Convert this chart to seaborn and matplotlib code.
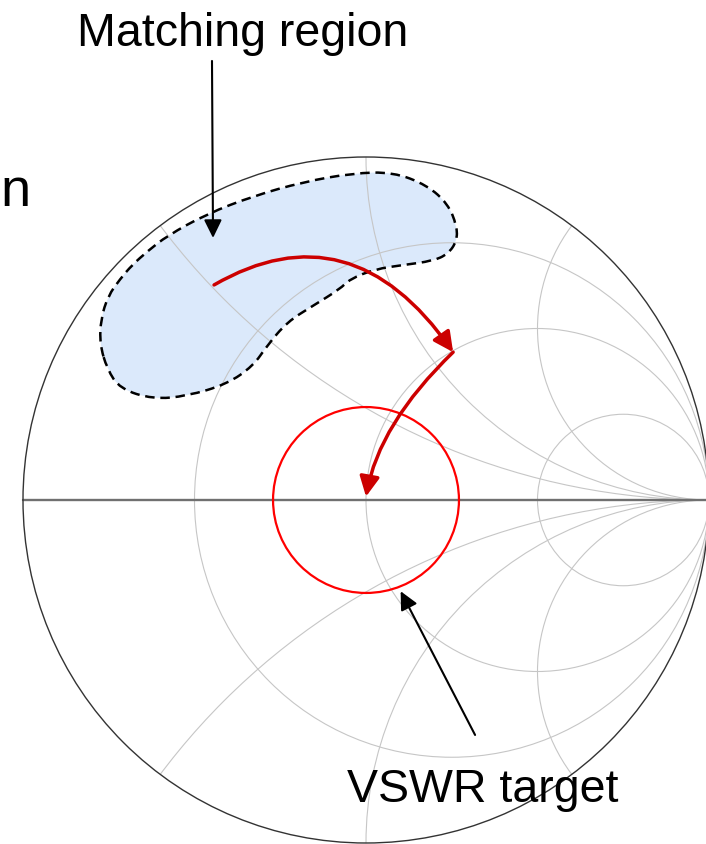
import numpy as np
import matplotlib
matplotlib.use("Agg")
import matplotlib.pyplot as plt
from matplotlib.patches import Circle, PathPatch
from matplotlib.path import Path
import seaborn as sns

# Smith chart grid (normalised resistance / reactance values)
resistance_circles = [1 / 3, 1.0, 3.0]
reactance_arcs = [0.5, 1.0, 2.0, -0.5, -1.0, -2.0]

# VSWR target: circle of constant |Gamma| around the chart centre
vswr_center_re = 0.0
vswr_center_im = 0.0
vswr_radius = 0.271

# Matching region outline in the reflection-coefficient plane
region_re = [-0.776, -0.773, -0.752, -0.717, -0.682, -0.636, -0.580, -0.464,
             -0.329, -0.184, -0.038, 0.079, 0.178, 0.239, 0.265, 0.265,
             0.239, 0.195, 0.108, 0.026, -0.047, -0.076, -0.155, -0.230,
             -0.289, -0.329, -0.405, -0.522, -0.621, -0.717, -0.755]
region_im = [0.455, 0.528, 0.595, 0.644, 0.685, 0.726, 0.770, 0.834,
             0.886, 0.927, 0.953, 0.956, 0.918, 0.863, 0.799, 0.755,
             0.717, 0.697, 0.685, 0.673, 0.644, 0.615, 0.566, 0.519,
             0.449, 0.391, 0.338, 0.303, 0.294, 0.324, 0.382]

# Matching path: start impedance -> after first element -> matched point
path_re = [-0.443, 0.254, 0.0]
path_im = [0.627, 0.431, 0.010]
path_bend = ["angle3,angleA=30,angleB=-55", "angle3,angleA=44,angleB=80"]

# Callout labels
region_label = "Matching region"
region_label_pos = (-0.843, 1.327)
region_arrow_tail = (-0.449, 1.280)
region_arrow_tip = (-0.446, 0.764)

vswr_label = "VSWR target"
vswr_label_pos = (-0.055, -0.878)
vswr_arrow_tail = (0.318, -0.685)
vswr_arrow_tip = (0.101, -0.266)

side_label = "n"
side_label_pos = (-1.066, 0.860)

sns.set_theme(style="white")
plt.rcParams["font.family"] = ["Liberation Sans", "DejaVu Sans"]

W, H = 706, 845
fig = plt.figure(figsize=(W / 100, H / 100), dpi=100)
ax = fig.add_axes([0, 0, 1, 1])
R_PX = 343.0
ax.set_xlim(-366 / R_PX, (W - 366) / R_PX)
ax.set_ylim((501 - H) / R_PX, 501 / R_PX)
ax.set_aspect("auto")
ax.axis("off")

grid_col = "#c6c6c6"


def smooth_closed(xs, ys):
    """Closed quadratic B-spline path through the outline's control points."""
    pts = np.column_stack([xs, ys])
    mids = (pts + np.roll(pts, -1, axis=0)) / 2
    verts = [mids[-1]]
    codes = [Path.MOVETO]
    for i in range(len(pts)):
        verts += [pts[i], mids[i]]
        codes += [Path.CURVE3, Path.CURVE3]
    verts.append(mids[-1])
    codes.append(Path.CLOSEPOLY)
    return Path(verts, codes)


# matching region fill (under the grid)
region_path = smooth_closed(region_re, region_im)
ax.add_patch(PathPatch(region_path, facecolor="#dbe9fb", edgecolor="none", zorder=1))

# grid circles, clipped to the unit circle
clip = Circle((0, 0), 1.0, transform=ax.transData)

for r in resistance_circles:
    c = Circle((r / (1 + r), 0), 1 / (1 + r), fill=False, ec=grid_col, lw=0.8, zorder=2)
    ax.add_patch(c)
    c.set_clip_path(clip)

for x in reactance_arcs:
    c = Circle((1.0, 1.0 / x), 1.0 / abs(x), fill=False, ec=grid_col, lw=0.8, zorder=2)
    ax.add_patch(c)
    c.set_clip_path(clip)

# real axis
sns.lineplot(x=[-1.0, 1.0], y=[0.0, 0.0], ax=ax, color="#707070", lw=1.7, zorder=3)

# outer boundary |Gamma| = 1
ax.add_patch(Circle((0, 0), 1.0, fill=False, ec="#333333", lw=1.0, zorder=3))

# dashed border of the matching region
ax.add_patch(PathPatch(region_path, facecolor="none", edgecolor="black", lw=1.8,
                       ls=(0, (3.8, 2.3)), zorder=4))

# VSWR target circle
ax.add_patch(Circle((vswr_center_re, vswr_center_im), vswr_radius, fill=False,
                    ec="#ff0000", lw=1.6, zorder=5))

# matching path arrows
for i in range(len(path_re) - 1):
    ax.annotate("", xy=(path_re[i + 1], path_im[i + 1]), xytext=(path_re[i], path_im[i]),
                arrowprops=dict(arrowstyle="-|>,head_length=0.6,head_width=0.3",
                                mutation_scale=20, color="#cc0000", lw=2.5,
                                shrinkA=0, shrinkB=0, connectionstyle=path_bend[i]),
                zorder=6)

# callouts
for tail, tip in [(region_arrow_tail, region_arrow_tip), (vswr_arrow_tail, vswr_arrow_tip)]:
    ax.annotate("", xy=tip, xytext=tail,
                arrowprops=dict(arrowstyle="-|>,head_length=0.55,head_width=0.27",
                                mutation_scale=20, color="black", lw=1.5,
                                shrinkA=0, shrinkB=0),
                zorder=7)

ax.text(*region_label_pos, region_label, fontsize=33.5, ha="left", va="baseline", color="black")
ax.text(*vswr_label_pos, vswr_label, fontsize=33.5, ha="left", va="baseline", color="black")
ax.text(*side_label_pos, side_label, fontsize=39, ha="left", va="baseline", color="black")

fig.savefig("out.png", dpi=100, facecolor="white")
